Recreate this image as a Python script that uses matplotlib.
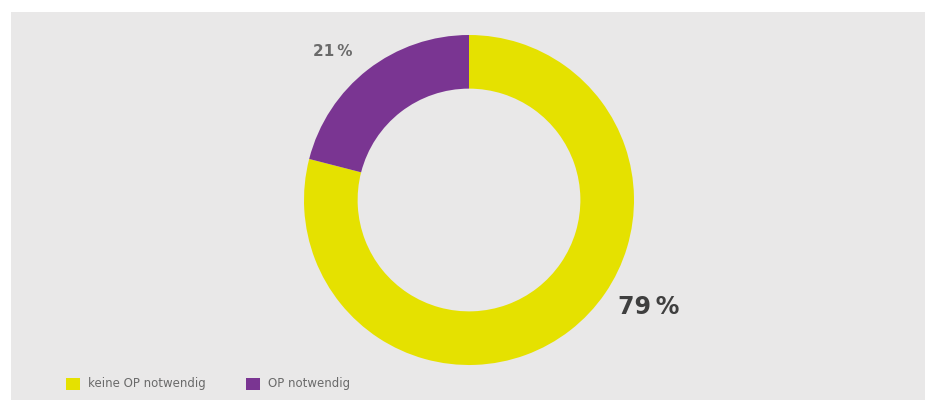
import matplotlib
matplotlib.use("Agg")
import matplotlib.pyplot as plt
from matplotlib.patches import Rectangle

categories = ["keine OP notwendig", "OP notwendig"]
values = [79, 21]
labels = ["79\u2009%", "21\u2009%"]
colors = ["#e5e100", "#7a3592"]

W, H = 927, 404
fig = plt.figure(figsize=(W / 100, H / 100), dpi=100)
fig.patch.set_facecolor("white")
ax = fig.add_axes([0, 0, 1, 1])

ax.add_patch(Rectangle((11, 4), 914, 388, facecolor="#e9e8e8", edgecolor="none", zorder=0))

cx, cy, r = 469, 404 - 200, 165
ax.pie(values, colors=colors, startangle=90, counterclock=False,
       center=(cx, cy), radius=r, frame=True,
       wedgeprops=dict(width=r * 0.325, edgecolor="none"))
ax.set_xlim(0, W)
ax.set_ylim(0, H)
ax.set_aspect("auto")
ax.axis("off")

ax.text(618, 404 - 307, labels[0], fontsize=17, fontweight="bold", color="#3f3f3f",
        ha="left", va="center")
ax.text(313, 404 - 52, labels[1], fontsize=11, color="#6a6a6a", fontweight="bold",
        ha="left", va="center")

# legend
lx = [66, 246]
for i, (cat, col) in enumerate(zip(categories, colors)):
    ax.add_patch(Rectangle((lx[i], 404 - 390), 14, 12, facecolor=col, edgecolor="none"))
    ax.text(lx[i] + 22, 404 - 384, cat, fontsize=8.5, color="#6a6a6a", ha="left", va="center")

fig.savefig("out.png", dpi=100, facecolor="white")
